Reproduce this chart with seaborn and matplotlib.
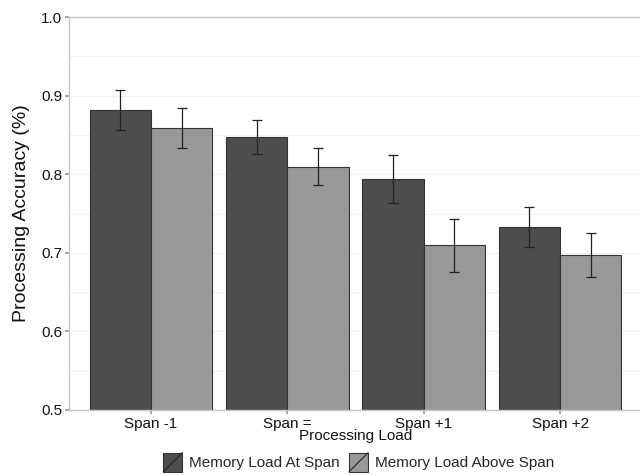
import pandas as pd
import matplotlib
matplotlib.use("Agg")
import matplotlib.pyplot as plt
from matplotlib.legend_handler import HandlerBase
from matplotlib.lines import Line2D
import seaborn as sns

# values
loads = ["Span -1", "Span =", "Span +1", "Span +2"]
conditions = ["Memory Load At Span", "Memory Load Above Span"]
at_span = [0.882, 0.847, 0.794, 0.733]
at_span_lo = [0.856, 0.826, 0.763, 0.708]
at_span_hi = [0.907, 0.869, 0.824, 0.758]
above_span = [0.859, 0.809, 0.710, 0.697]
above_span_lo = [0.833, 0.786, 0.676, 0.669]
above_span_hi = [0.884, 0.833, 0.743, 0.725]

df = pd.DataFrame({
    "Load": loads * 2,
    "Condition": [conditions[0]] * 4 + [conditions[1]] * 4,
    "Accuracy": at_span + above_span,
    "lo": at_span_lo + above_span_lo,
    "hi": at_span_hi + above_span_hi,
})


class SlashBox(HandlerBase):
    # legend key: filled square with a diagonal stroke, ggplot style
    def create_artists(self, legend, orig_handle, xdescent, ydescent,
                       width, height, fontsize, trans):
        side = fontsize * 1.25
        x0 = -xdescent + (width - side) / 2
        y0 = -ydescent + (height - side) / 2
        rect = plt.Rectangle((x0, y0), side, side,
                             facecolor=orig_handle.get_facecolor(),
                             edgecolor="#333333", linewidth=0.8, transform=trans)
        line = Line2D([x0, x0 + side], [y0, y0 + side], color="#222222",
                      linewidth=0.8, transform=trans)
        return [rect, line]


sns.set_theme(style="white")
plt.rcParams["font.family"] = ["Liberation Sans", "DejaVu Sans"]

fig = plt.figure(figsize=(6.4, 4.75), dpi=100)
ax = fig.add_axes([0.108, 0.137, 0.895, 0.827])

palette = {conditions[0]: "#4d4d4d", conditions[1]: "#999999"}
sns.barplot(data=df, x="Load", y="Accuracy", hue="Condition", order=loads,
            hue_order=conditions, palette=palette, width=0.9, errorbar=None,
            edgecolor="#333333", linewidth=0.8, saturation=1, ax=ax)

# error bars at the bar centres
for cont, cond in zip(ax.containers, conditions):
    sub = df[df["Condition"] == cond].set_index("Load").loc[loads]
    xs = [p.get_x() + p.get_width() / 2 for p in cont.patches]
    y = sub["Accuracy"].values
    ax.errorbar(xs, y, yerr=[y - sub["lo"].values, sub["hi"].values - y],
                fmt="none", ecolor="#222222", elinewidth=0.9, capsize=3.5,
                capthick=0.9, zorder=5)

ax.set_ylim(0.5, 1.0)
ax.set_xlim(-0.6, 3.6)
ax.set_yticks([0.5, 0.6, 0.7, 0.8, 0.9, 1.0])
ax.set_yticks([0.55, 0.65, 0.75, 0.85, 0.95], minor=True)
ax.set_yticklabels(["0.5", "0.6", "0.7", "0.8", "0.9", "1.0"])
ax.grid(axis="y", which="both", color="#f0f0f0", linewidth=0.8)
ax.set_axisbelow(True)

for s in ax.spines.values():
    s.set_color("#c4c4c4")
    s.set_linewidth(1.0)
ax.tick_params(axis="both", which="major", length=3, color="#999999",
               labelsize=11, labelcolor="#111111", pad=2, bottom=True, left=True)
ax.tick_params(axis="y", which="minor", length=0)

ax.set_xlabel("Processing Load", fontsize=11, labelpad=-1, color="#111111")
ax.set_ylabel("Processing Accuracy (%)", fontsize=14, labelpad=8, color="#111111")

ax.legend_.remove()
handles = [plt.Rectangle((0, 0), 1, 1, facecolor=palette[c]) for c in conditions]
fig.legend(handles, conditions, loc="center", bbox_to_anchor=(0.56, 0.027),
           ncol=2, frameon=False, fontsize=11, handlelength=1.3,
           handleheight=1.3, handletextpad=0.4, columnspacing=0.6,
           handler_map={plt.Rectangle: SlashBox()})

fig.savefig("out.png", dpi=100)
